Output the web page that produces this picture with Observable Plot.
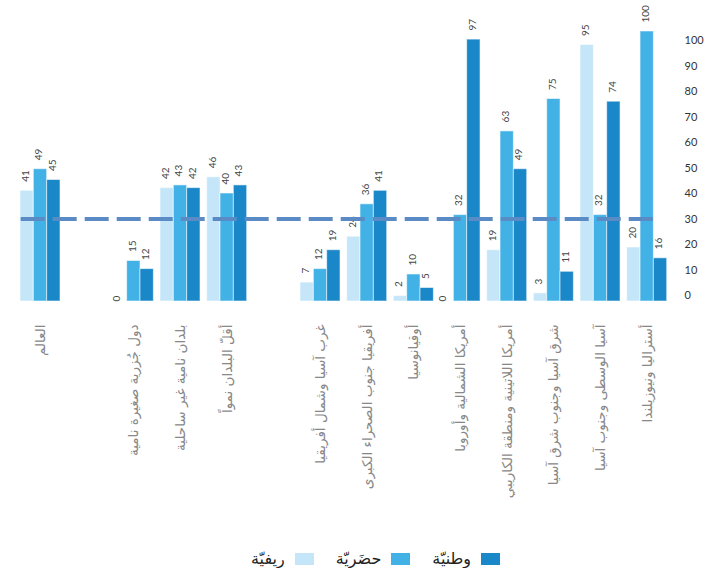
<!DOCTYPE html>
<html>
<head>
<meta charset="utf-8">
<script src="https://cdn.jsdelivr.net/npm/d3@7"></script>
<script src="https://cdn.jsdelivr.net/npm/@observablehq/plot@0.6"></script>
<style>
  body { margin: 0; background: #fff; }
  #wrap { position: relative; width: 711px; height: 520px; }
  #wrap > svg { position: absolute; left: 0; top: 0; }
  #legend { width: 711px; margin-top: 29px; display: flex; justify-content: flex-start; direction: rtl; padding-right: 211px; box-sizing: border-box; }
  #legend .lg-swatches { direction: rtl; font-family: "DejaVu Sans", sans-serif; font-size: 16px; color: #222; min-height: 0; margin: 0; }
  #legend .lg-swatch { margin-right: 0 !important; margin-left: 22px !important; }
  #legend .lg-swatch > svg { margin-right: 0 !important; margin-left: 10px !important; }
</style>
</head>
<body>
<div id="wrap"></div>
<div id="legend"></div>
<script>
// ---- data ----
const categories = [
  "العالم", "_1",
  "دول جُزرية صغيرة نامية", "بلدان نامية غير ساحلية", "أقلّ البلدان نمواً", "_2",
  "غرب آسيا وشمال أفريقيا", "أفريقيا جنوب الصحراء الكبرى", "أوقيانوسيا",
  "أمريكا الشمالية وأوروبا", "أمريكا اللاتينية ومنطقة الكاريبي",
  "شرق آسيا وجنوب شرق آسيا", "آسيا الوسطى وجنوب آسيا", "أستراليا ونيوزيلندا"
];
const rural    = [41, null, 0, 42, 46, null, 7, 24, 2, 0, 19, 3, 95, 20];
const urban    = [49, null, 15, 43, 40, null, 12, 36, 10, 32, 63, 75, 32, 100];
const national = [45, null, 12, 42, 43, null, 19, 41, 5, 97, 49, 11, 74, 16];
const seriesNames = ["ريفيّة", "حضَريّة", "وطنيّة"];   // rural, urban, national
const seriesColors = ["#c5e6f8", "#42b1e6", "#1a87c9"];
const yTicks = [0, 10, 20, 30, 40, 50, 60, 70, 80, 90, 100];
const referenceLine = [30];

// ---- table ----
const seriesValues = [rural, urban, national];
const rows = [];
categories.forEach((c, i) => {
  seriesValues.forEach((vals, s) => {
    if (vals[i] != null) rows.push({group: c, series: seriesNames[s], value: vals[i]});
  });
});

const numFont = "Lato, 'DejaVu Sans', sans-serif";
const arFont = "'DejaVu Sans', sans-serif";

const main = Plot.plot({
  width: 711,
  height: 520,
  marginLeft: 20,
  marginRight: 44.3,
  marginTop: 31,
  marginBottom: 219,
  fx: {domain: categories, paddingInner: 0.143, paddingOuter: 0, round: false, label: null},
  x: {domain: seriesNames, padding: 0, round: false, axis: null},
  y: {domain: [0, 100], axis: null},
  color: {domain: seriesNames, range: seriesColors},
  marks: [
    Plot.barY(rows, {fx: "group", x: "series", y: "value", fill: "series", stroke: "#ffffff", strokeOpacity: 0.55, strokeWidth: 1}),
    Plot.text(rows.filter(d => d.value > 0), {
      fx: "group", x: "series", y: "value", text: d => String(d.value),
      rotate: -90, textAnchor: "start", dy: -9, dx: -1.5,
      fontSize: 10, fill: "#444", fontFamily: numFont
    }),
    Plot.text(rows.filter(d => d.value === 0), {
      fx: "group", x: "series", y: "value", text: d => String(d.value),
      rotate: -90, textAnchor: "start", dy: 0, dx: -4,
      fontSize: 10, fill: "#444", fontFamily: numFont
    }),
    Plot.axisFx({
      anchor: "bottom", tickSize: 0, tickPadding: 23, tickRotate: -90,
      textAnchor: "end", lineAnchor: "middle", label: null,
      tickFormat: d => d.startsWith("_") ? "" : d,
      fontSize: 13.5, color: "#888888", fontFamily: arFont
    })
  ]
});

const overlay = Plot.plot({
  width: 711,
  height: 520,
  marginLeft: 20.7,
  marginRight: 55,
  marginTop: 40,
  marginBottom: 225,
  style: {background: "transparent"},
  y: {domain: [0, 100]},
  marks: [
    Plot.ruleY(referenceLine, {stroke: "#5b8bc5", strokeWidth: 4, strokeDasharray: "24 8"}),
    Plot.axisY(yTicks, {
      anchor: "right", tickSize: 0, tickPadding: 28, textAnchor: "start",
      label: null, fontSize: 11, color: "#333", fontFamily: numFont
    })
  ]
});

const wrap = document.getElementById("wrap");
wrap.appendChild(main);
wrap.appendChild(overlay);

const legend = Plot.legend({
  color: {domain: seriesNames.slice().reverse(), range: seriesColors.slice().reverse()},
  legend: "swatches",
  swatchWidth: 19,
  swatchHeight: 12,
  className: "lg"
});
document.getElementById("legend").appendChild(legend);
</script>
</body>
</html>
